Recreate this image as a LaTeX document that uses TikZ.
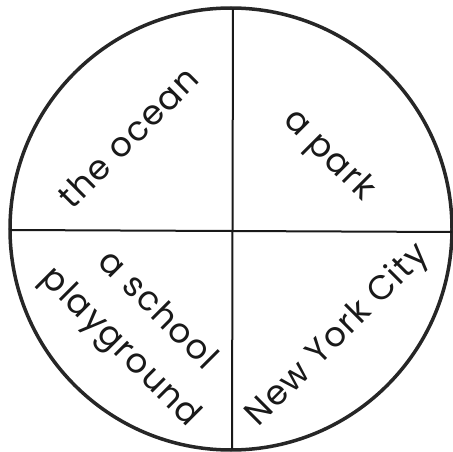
\documentclass[tikz,border=0pt]{standalone}
\usepackage{fontspec}
\setmainfont{Poppins}[LetterSpace=4]
\begin{document}
\begin{tikzpicture}[x=1pt,y=1pt,
  lbl/.style={font=\fontsize{34}{52}\selectfont, inner sep=0pt, align=center, text=black!90},
  rim/.style={draw=black!85, line width=3.5pt},
  divider/.style={draw=black!90, line width=2pt}]
\useasboundingbox (0,0) rectangle (453,-452);
\coordinate (c) at (231,-229);
\draw[rim] (c) circle[radius=221];
\coordinate (top) at (233,-9);
\coordinate (bot) at (232,-449);
\coordinate (lft) at (10,-230);
\coordinate (rgt) at (452,-232);
\draw[divider] (top) -- (bot);
\draw[divider] (lft) -- (rgt);
\node[lbl, rotate=45] (ocean) at (128,-137) {the ocean};
\node[lbl, rotate=-45] (park) at (328,-156) {a park};
\node[lbl, rotate=-45] (school) at (138,-330) {a school\\playground};
\node[lbl, rotate=45] (nyc) at (338,-336) {New York City};
\end{tikzpicture}
\end{document}
